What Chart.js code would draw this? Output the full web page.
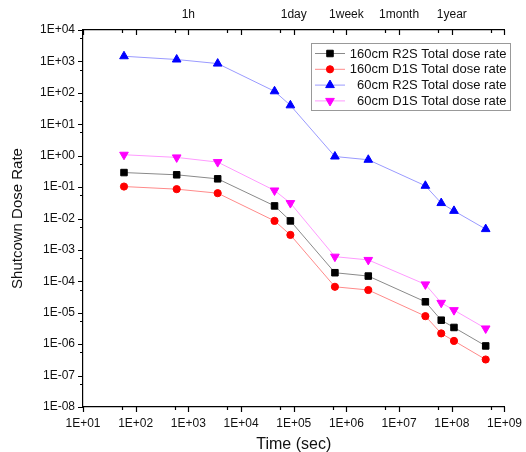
<!DOCTYPE html>
<html>
<head>
<meta charset="utf-8">
<title>Shutdown dose rate</title>
<script src="https://cdn.jsdelivr.net/npm/chart.js@4.4.1/dist/chart.umd.min.js"></script>
<style>
  html, body { margin: 0; padding: 0; background: #fff; }
  #wrap { width: 526px; height: 452px; position: relative; }
</style>
</head>
<body>
<div id="wrap"><canvas id="myChart"></canvas></div>
<script>
// cooling time (sec) for every point
const timeSec = [60, 600, 3600, 43200, 86400, 604800, 2.6e6, 3.15e7, 6.3e7, 1.1e8, 4.4e8];

// dose rate series
const r2s160 = [0.29, 0.246, 0.183, 0.0252, 0.0084, 1.88e-4, 1.47e-4, 2.23e-5, 5.8e-6, 3.4e-6, 8.8e-7];
const d1s160 = [0.104, 0.086, 0.064, 0.0084, 0.0030, 6.7e-5, 5.3e-5, 7.8e-6, 2.2e-6, 1.27e-6, 3.25e-7];
const r2s60 = [1460, 1150, 853, 112, 40, 0.94, 0.74, 0.11, 0.031, 0.0175, 0.0046];
const d1s60 = [1.07, 0.88, 0.625, 0.078, 0.031, 6.1e-4, 4.8e-4, 8.0e-5, 2.07e-5, 1.21e-5, 3.16e-6];

const seriesLabels = ['160cm R2S Total dose rate', '160cm D1S Total dose rate',
                      '60cm R2S Total dose rate', '60cm D1S Total dose rate'];

// axis ticks
const xTicks = [1e1, 1e2, 1e3, 1e4, 1e5, 1e6, 1e7, 1e8, 1e9];
const yTicks = [1e-8, 1e-7, 1e-6, 1e-5, 1e-4, 1e-3, 1e-2, 1e-1, 1e0, 1e1, 1e2, 1e3, 1e4];
const topTicks = [1e3, 1e5, 1e6, 1e7, 1e8];
const topLabels = ['1h', '1day', '1week', '1month', '1year'];

Chart.defaults.font.family = "'Liberation Sans', Arial, sans-serif";
Chart.defaults.color = '#111';

// 1E+04 style labels
function sci(v) {
    const e = Math.round(Math.log10(v));
    return '1E' + (e < 0 ? '-' : '+') + String(Math.abs(e)).padStart(2, '0');
}

function pairs(ys) {
    return ys.map((y, i) => ({ x: timeSec[i], y: y }));
}

// tick marks drawn by hand: bottom/left outward, top inward, plus minor ticks
const tickPlugin = {
    id: 'tickMarks',
    afterDraw(chart) {
        const c = chart.ctx;
        const xs = chart.scales.x, ys = chart.scales.y, a = chart.chartArea;
        c.save();
        c.strokeStyle = '#000';
        c.lineWidth = 1.2;
        c.beginPath();
        xTicks.forEach((v, i) => {
            const px = Math.round(xs.getPixelForValue(v)) + 0.5;
            c.moveTo(px, a.bottom); c.lineTo(px, a.bottom + 5);
            c.moveTo(px, a.top); c.lineTo(px, a.top + 5);
            if (i < xTicks.length - 1) {
                const mx = Math.round(xs.getPixelForValue(v * Math.pow(10, 0.74))) + 0.5;
                c.moveTo(mx, a.bottom); c.lineTo(mx, a.bottom + 3);
                c.moveTo(mx, a.top); c.lineTo(mx, a.top + 3);
            }
        });
        yTicks.forEach((v, i) => {
            const py = Math.round(ys.getPixelForValue(v)) + 0.5;
            c.moveTo(a.left, py); c.lineTo(a.left - 5, py);
            if (i < yTicks.length - 1) {
                const my = Math.round(ys.getPixelForValue(v * Math.pow(10, 0.74))) + 0.5;
                c.moveTo(a.left, my); c.lineTo(a.left - 3, my);
            }
        });
        c.stroke();
        c.restore();
    }
};

// boxed legend in the upper right, text right aligned like the original
const legendPlugin = {
    id: 'boxLegend',
    afterDraw(chart) {
        const c = chart.ctx;
        c.save();
        c.fillStyle = '#fff';
        c.fillRect(311, 43, 199, 67);
        c.strokeStyle = '#999';
        c.lineWidth = 1;
        c.strokeRect(311.5, 43.5, 199, 67);
        chart.data.datasets.forEach((ds, i) => {
            const y = 53.5 + i * 15.8;
            c.strokeStyle = ds.borderColor;
            c.lineWidth = 1;
            c.beginPath();
            c.moveTo(315, y); c.lineTo(345, y);
            c.stroke();
            c.fillStyle = ds.pointBackgroundColor;
            c.strokeStyle = ds.pointBorderColor;
            Chart.helpers.drawPoint(c, {
                pointStyle: ds.pointStyle,
                radius: ds.pointRadius,
                rotation: ds.pointRotation || 0,
                borderWidth: 1
            }, 330, y);
            c.fillStyle = '#111';
            c.font = "13px 'Liberation Sans', Arial, sans-serif";
            c.textAlign = 'right';
            c.textBaseline = 'middle';
            c.fillText(ds.label, 506.5, y + 0.5);
        });
        c.restore();
    }
};

const ctx = document.getElementById('myChart').getContext('2d');
const chart = new Chart(ctx, {
    type: 'line',
    data: {
        datasets: [{
            label: seriesLabels[0],
            data: pairs(r2s160),
            borderColor: '#8a8a8a',
            borderWidth: 1,
            pointStyle: 'rect',
            pointRadius: 4.6,
            pointBackgroundColor: '#000',
            pointBorderColor: '#000'
        }, {
            label: seriesLabels[1],
            data: pairs(d1s160),
            borderColor: '#ff8a8a',
            borderWidth: 1,
            pointStyle: 'circle',
            pointRadius: 3.6,
            pointBackgroundColor: '#ff0000',
            pointBorderColor: '#ff0000'
        }, {
            label: seriesLabels[2],
            data: pairs(r2s60),
            borderColor: '#9a9aff',
            borderWidth: 1,
            pointStyle: 'triangle',
            pointRadius: 5,
            pointBackgroundColor: '#0000ff',
            pointBorderColor: '#0000ff'
        }, {
            label: seriesLabels[3],
            data: pairs(d1s60),
            borderColor: '#ff9aff',
            borderWidth: 1,
            pointStyle: 'triangle',
            pointRotation: 180,
            pointRadius: 5,
            pointBackgroundColor: '#ff00ff',
            pointBorderColor: '#ff00ff'
        }]
    },
    options: {
        responsive: true,
        maintainAspectRatio: false,
        animation: false,
        layout: { padding: { left: 0, right: 20, top: 0, bottom: 0 } },
        plugins: {
            legend: { display: false },
            tooltip: { enabled: false }
        },
        scales: {
            x: {
                type: 'logarithmic',
                position: 'bottom',
                min: 10,
                max: 1e9,
                afterBuildTicks: s => { s.ticks = xTicks.map(v => ({ value: v })); },
                afterFit: s => { s.height = 45; },
                grid: { drawOnChartArea: false, tickLength: 5, tickColor: 'rgba(0,0,0,0)' },
                border: { display: true, color: '#000', width: 1.2 },
                ticks: {
                    padding: 4,
                    maxRotation: 0,
                    autoSkip: false,
                    font: { size: 12 },
                    callback: v => sci(v)
                },
                title: {
                    display: true,
                    text: 'Time (sec)',
                    font: { size: 16 },
                    padding: { top: 0, bottom: -2 }
                }
            },
            x2: {
                type: 'logarithmic',
                position: 'top',
                min: 10,
                max: 1e9,
                afterBuildTicks: s => { s.ticks = topTicks.map(v => ({ value: v })); },
                afterFit: s => { s.height = 30; },
                grid: { drawOnChartArea: false, tickLength: 5, tickColor: 'rgba(0,0,0,0)' },
                border: { display: true, color: '#000', width: 1.2 },
                ticks: {
                    padding: 3,
                    maxRotation: 0,
                    autoSkip: false,
                    font: { size: 12 },
                    callback: (v, i) => topLabels[i]
                }
            },
            y: {
                type: 'logarithmic',
                min: 1e-8,
                max: 1e4,
                afterBuildTicks: s => { s.ticks = yTicks.map(v => ({ value: v })); },
                afterFit: s => { s.width = 83; },
                grid: { drawOnChartArea: false, tickLength: 5, tickColor: 'rgba(0,0,0,0)' },
                border: { display: true, color: '#000', width: 1.2 },
                ticks: {
                    padding: 3,
                    autoSkip: false,
                    font: { size: 12 },
                    callback: v => sci(v)
                },
                title: {
                    display: true,
                    text: 'Shutcown Dose Rate',
                    font: { size: 15 },
                    padding: { top: 9, bottom: 0 }
                }
            }
        }
    },
    plugins: [tickPlugin, legendPlugin]
});
</script>
</body>
</html>
